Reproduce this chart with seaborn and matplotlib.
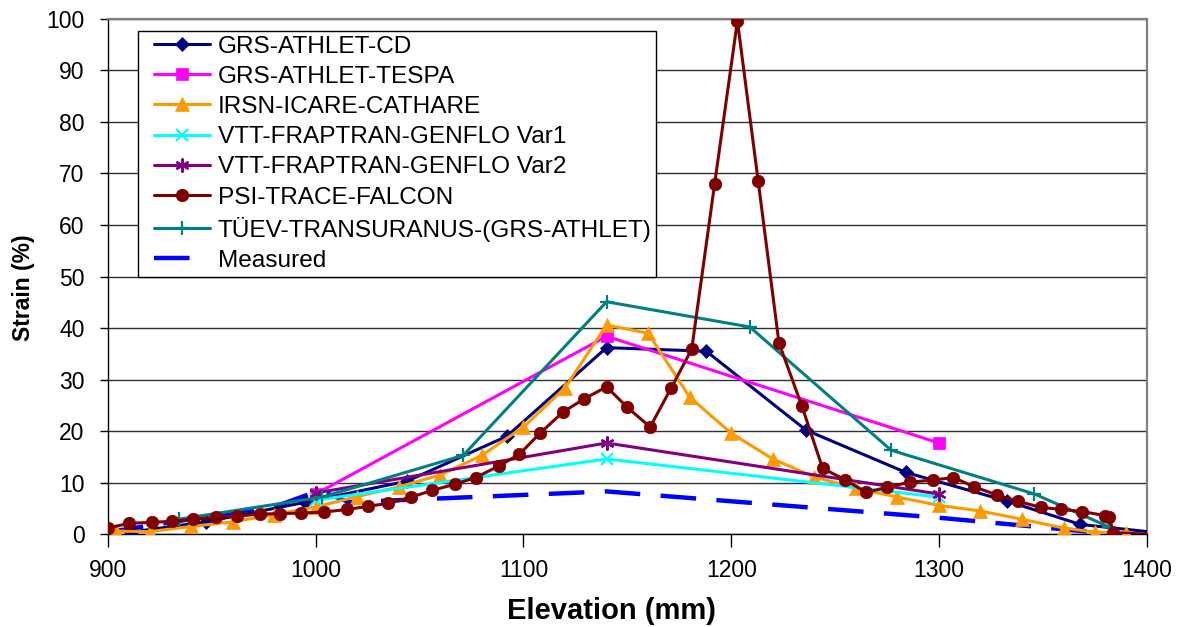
import matplotlib
matplotlib.use("Agg")
import matplotlib.pyplot as plt
import seaborn as sns
from matplotlib.legend_handler import HandlerLine2D

# ---------------- data ----------------
labels = ["GRS-ATHLET-CD", "GRS-ATHLET-TESPA", "IRSN-ICARE-CATHARE",
          "VTT-FRAPTRAN-GENFLO Var1", "VTT-FRAPTRAN-GENFLO Var2",
          "PSI-TRACE-FALCON", "TÜEV-TRANSURANUS-(GRS-ATHLET)", "Measured"]

cd_x = [911, 947, 995, 1044, 1092, 1140, 1188, 1236, 1284, 1333, 1368, 1412]
cd_y = [0.4, 2.4, 6.2, 10.3, 19.0, 36.2, 35.5, 20.2, 12.0, 6.4, 1.9, 0.0]

tespa_x = [1000, 1140, 1300]
tespa_y = [7.8, 38.4, 17.7]

icare_x = [904, 920, 940, 960, 980, 1000, 1020, 1040, 1060, 1080, 1100, 1120, 1140,
           1160, 1180, 1200, 1220, 1240, 1260, 1280, 1300, 1320, 1340, 1360, 1375, 1390]
icare_y = [0.6, 0.5, 1.5, 2.4, 3.8, 5.3, 7.3, 9.2, 11.5, 15.3, 20.8, 28.4, 40.6,
           39.0, 26.6, 19.6, 14.6, 11.1, 8.9, 7.2, 5.6, 4.5, 2.9, 1.2, 0.4, 0.3]

var1_x = [1000, 1140, 1300]
var1_y = [6.6, 14.6, 7.2]

var2_x = [1000, 1140, 1300]
var2_y = [8.0, 17.7, 7.8]

psi_x = [900, 910, 921, 931, 941, 952, 962, 973, 983, 993, 1004, 1015, 1025, 1035,
         1046, 1056, 1067, 1077, 1088, 1098, 1108, 1119, 1129, 1140, 1150, 1161, 1171,
         1181, 1192, 1203, 1213, 1223, 1234, 1244, 1255, 1265, 1275, 1286, 1297, 1307,
         1317, 1328, 1338, 1349, 1359, 1369, 1380, 1382, 1384, 1420]
psi_y = [1.2, 2.1, 2.3, 2.5, 2.9, 3.3, 3.5, 3.9, 4.0, 4.1, 4.3, 4.8, 5.4, 6.0,
         7.2, 8.5, 9.7, 11.0, 13.2, 15.5, 19.6, 23.7, 26.2, 28.6, 24.6, 20.8, 28.3,
         35.9, 67.9, 99.6, 68.5, 37.1, 24.9, 12.8, 10.5, 8.1, 9.1, 10.1, 10.5, 11.0,
         9.2, 7.6, 6.4, 5.2, 4.8, 4.4, 3.6, 3.3, 0.3, -0.3]

tuev_x = [934, 1003, 1071, 1140, 1209, 1277, 1346, 1382]
tuev_y = [2.9, 7.2, 15.3, 45.1, 40.2, 16.3, 7.8, 1.4]

meas_x = [900, 982, 1002, 1016, 1140, 1300, 1385]
meas_y = [0.4, 5.6, 8.5, 6.2, 8.3, 3.2, 0.0]

# ---------------- style ----------------
sns.set_theme(style="white")
plt.rcParams["font.family"] = ["Liberation Sans", "DejaVu Sans"]

fig, ax = plt.subplots(figsize=(11.87, 6.27), dpi=100)
fig.subplots_adjust(left=0.091, right=0.966, bottom=0.148, top=0.970)

specs = [
    (cd_x, cd_y, "#000080", "D", 7.5, 2.2, "-", 3),
    (tespa_x, tespa_y, "#FF00FF", "s", 8.5, 2.2, "-", 3),
    (icare_x, icare_y, "#FF9900", "^", 9.5, 2.2, "-", 3),
    (var1_x, var1_y, "#00FFFF", "x", 8, 2.2, "-", 3),
    (var2_x, var2_y, "#800080", (6, 2, 0), 10, 2.2, "-", 3),
    (psi_x, psi_y, "#800000", "o", 9, 2.2, "-", 4),
    (tuev_x, tuev_y, "#008080", "+", 10, 2.2, "-", 3),
    (meas_x, meas_y, "#0000FF", None, 0, 3.2, (0, (8, 4.6)), 2.5),
]

for lab, (xs, ys, col, mk, ms, lw, ls, z) in zip(labels, specs):
    kw = dict(color=col, linewidth=lw, linestyle=ls, label=lab, sort=False,
              estimator=None, ax=ax, zorder=z)
    if mk is not None:
        kw.update(marker=mk, markersize=ms, markerfacecolor=col,
                  markeredgecolor=col,
                  markeredgewidth=1.6 if mk in ("x", "+", (6, 2, 0)) else 0.5)
    sns.lineplot(x=xs, y=ys, **kw)

ax.set_xlim(900, 1400)
ax.set_ylim(0, 100)
ax.set_xticks(range(900, 1401, 100))
ax.set_yticks(range(0, 101, 10))
ax.yaxis.grid(True, color="#303030", linewidth=1.0)
ax.xaxis.grid(False)
ax.set_axisbelow(True)

for s in ["left", "bottom"]:
    ax.spines[s].set_color("black")
    ax.spines[s].set_linewidth(1.0)
for s in ["top", "right"]:
    ax.spines[s].set_color("#808080")
    ax.spines[s].set_linewidth(1.6)

ax.tick_params(axis="both", which="major", bottom=True, left=True, direction="out",
               width=1, color="black", labelsize=16.5, labelcolor="black")
ax.tick_params(axis="x", length=9, pad=9)
ax.tick_params(axis="y", length=6, pad=11)

ax.set_xlabel("Elevation (mm)", fontsize=21, fontweight="bold", color="black")
ax.set_ylabel("Strain (%)", fontsize=16.5, fontweight="bold", color="black")
ax.xaxis.set_label_coords(0.485, -0.122)
ax.yaxis.set_label_coords(-0.070, 0.478)


class ShiftedLine(HandlerLine2D):
    """Line handle that starts a little to the right of the handle box."""
    def __init__(self, shift_px, **kw):
        super().__init__(**kw)
        self.shift_px = shift_px

    def create_artists(self, legend, orig_handle, xdescent, ydescent, width, height,
                       fontsize, trans):
        s = self.shift_px
        return super().create_artists(legend, orig_handle, xdescent - s, ydescent,
                                      width - s, height, fontsize, trans)


handles, hlabels = ax.get_legend_handles_labels()
leg = ax.legend(handles, hlabels, loc="upper left", bbox_to_anchor=(0.029, 0.977),
                frameon=True, fancybox=False, edgecolor="black", framealpha=1,
                fontsize=17.6, handlelength=2.75, handletextpad=0.3, borderaxespad=0,
                labelspacing=0.33, borderpad=0.2,
                handler_map={h: ShiftedLine(8, numpoints=1) for h in handles})
leg.get_frame().set_linewidth(1.0)
for t in leg.get_texts():
    t.set_color("black")

fig.savefig("out.png", dpi=100)
